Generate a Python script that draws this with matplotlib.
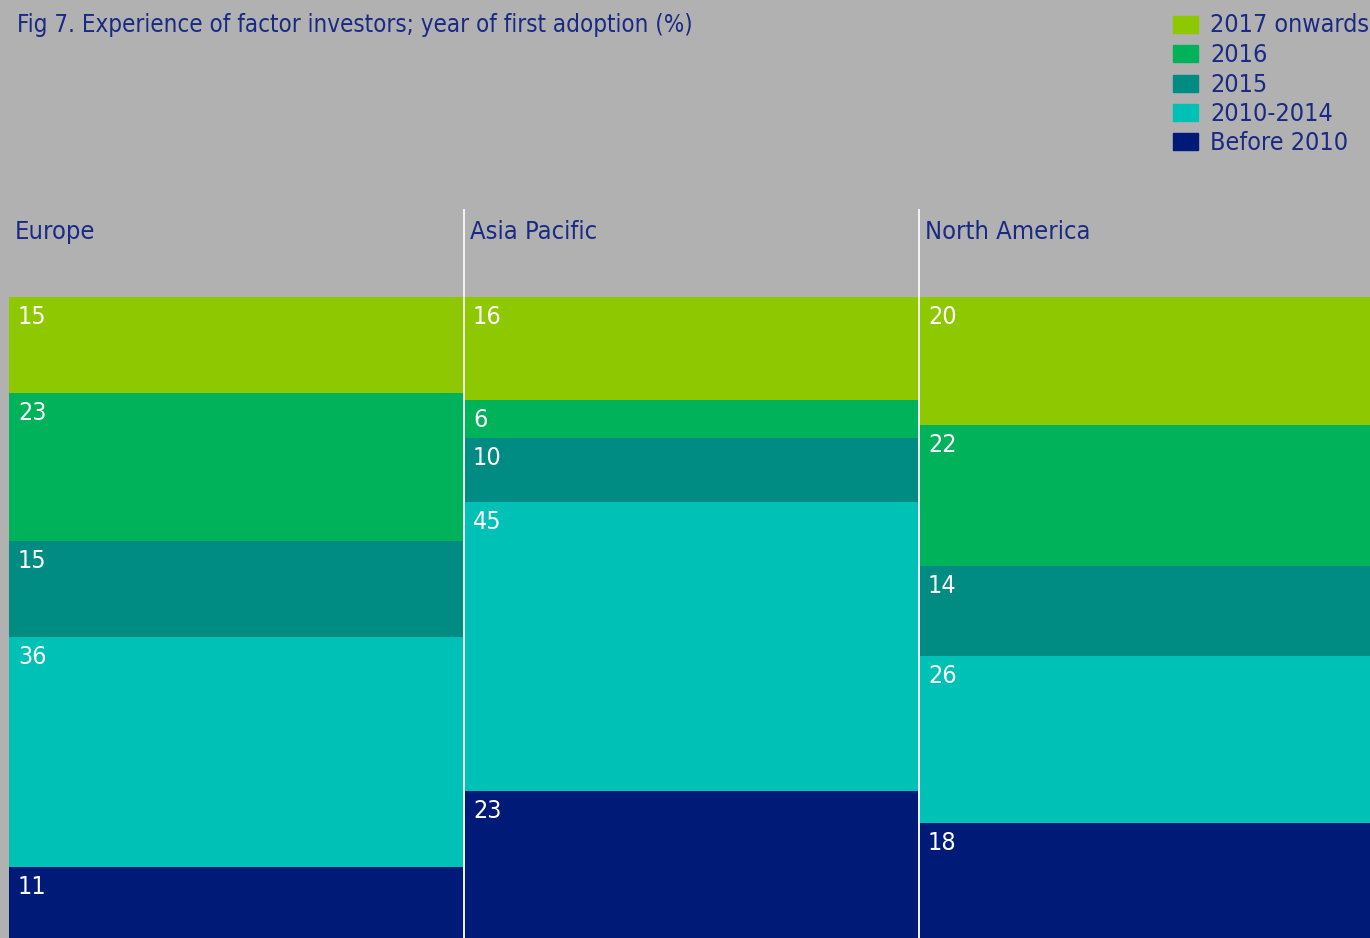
import matplotlib
matplotlib.use("Agg")
import matplotlib.pyplot as plt
import matplotlib.patches as mpatches
from matplotlib import font_manager
from matplotlib.transforms import blended_transform_factory

# ---------------------------------------------------------------------------
# Data
# ---------------------------------------------------------------------------
regions = ["Europe", "Asia Pacific", "North America"]
# stacked bottom -> top
series_names = ["Before 2010", "2010-2014", "2015", "2016", "2017 onwards"]
before_2010 = [11, 23, 18]
y2010_2014 = [36, 45, 26]
y2015 = [15, 10, 14]
y2016 = [23, 6, 22]
y2017_on = [15, 16, 20]
series_values = [before_2010, y2010_2014, y2015, y2016, y2017_on]

# ---------------------------------------------------------------------------
# Styling
# ---------------------------------------------------------------------------
COLORS = ["#001A78", "#00C1B6", "#008C82", "#00B259", "#8DC800"]
BG = "#B1B1B1"
TEXT = "#1A2A84"

names = {f.name for f in font_manager.fontManager.ttflist}
if "Liberation Sans Narrow" in names:
    FONT = "Liberation Sans Narrow"
    STRETCH = "normal"
else:
    FONT = "DejaVu Sans"
    STRETCH = "condensed"
plt.rcParams["font.family"] = FONT
plt.rcParams["font.stretch"] = STRETCH

W, H = 1370, 938
fig = plt.figure(figsize=(W / 100, H / 100), dpi=100)
fig.patch.set_facecolor(BG)

# plot area: from x=9px to right edge, from bottom up to y=297px
ax = fig.add_axes([9 / W, 0, 1 - 9 / W, (H - 297) / H])
ax.set_facecolor(BG)
for s in ax.spines.values():
    s.set_visible(False)
ax.set_xticks([])
ax.set_yticks([])

x = [0, 1, 2]
bottom = [0, 0, 0]
for vals, color, name in zip(series_values, COLORS, series_names):
    ax.bar(x, vals, width=1, bottom=bottom, color=color, align="edge",
           linewidth=0, label=name)
    for xi, v, b in zip(x, vals, bottom):
        ax.annotate(str(v), (xi, b + v), xytext=(9, -8), textcoords="offset pixels",
                    ha="left", va="top", color="white", fontsize=18)
    bottom = [b + v for b, v in zip(bottom, vals)]

ax.set_xlim(0, 1361 / 455)
ax.set_ylim(0, 100)

# white separators between the regions, reaching up into the header band
top_line = (H - 210) / (H - 297)
for xi in x[1:]:
    ax.axvline(xi, ymin=0, ymax=top_line, color="#F4F4F4", lw=1.4, clip_on=False)

# region headers
trans = blended_transform_factory(ax.transData, ax.transAxes)
for xi, name in zip(x, regions):
    ax.annotate(name, (xi, (H - 239) / (H - 297)), xycoords=trans,
                xytext=(6, 0), textcoords="offset pixels",
                ha="left", va="baseline", color=TEXT, fontsize=18.3)

# title
fig.text(17 / W, 1 - 32 / H, "Fig 7. Experience of factor investors; year of first adoption (%)",
         ha="left", va="baseline", color=TEXT, fontsize=17.3)

# legend, top -> bottom
row_y = [24.5, 54, 83.5, 113, 142]
for yc, name, color in zip(row_y, series_names[::-1], COLORS[::-1]):
    fig.patches.append(mpatches.Rectangle((1173 / W, 1 - (yc + 8.5) / H), 25 / W, 17 / H,
                                          transform=fig.transFigure, color=color))
    fig.text(1210 / W, 1 - (yc - 1.5) / H, name, ha="left", va="center_baseline",
             color=TEXT, fontsize=18)

fig.savefig("out.png", dpi=100, facecolor=BG)
